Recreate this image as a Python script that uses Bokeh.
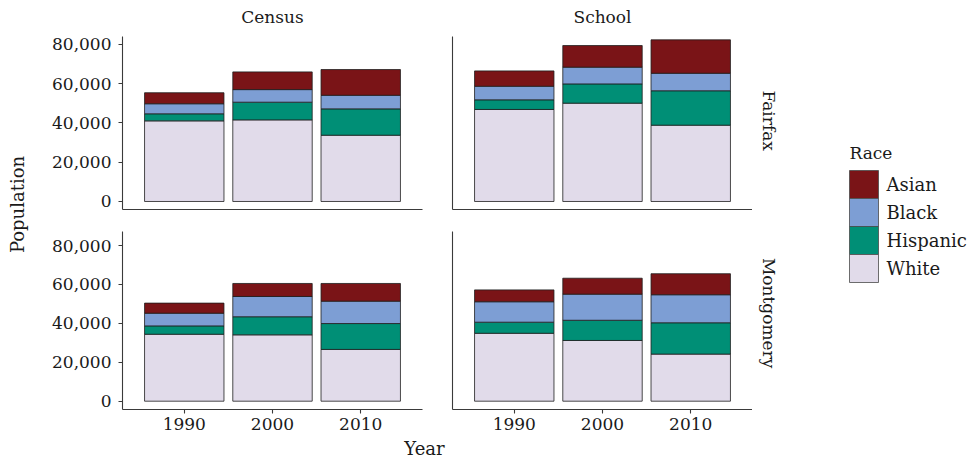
import math
from bokeh.plotting import figure
from bokeh.models import FactorRange, Range1d, NumeralTickFormatter, ColumnDataSource
from bokeh.layouts import row, column
from bokeh.embed import file_html
from bokeh.resources import INLINE
from bokeh.core.properties import value

# ---------------- data ----------------
years = ["1990", "2000", "2010"]
legend_races = ["Asian", "Black", "Hispanic", "White"]
stack_order = ["White", "Hispanic", "Black", "Asian"]          # bottom -> top
race_colors = {"Asian": "#7A1417", "Black": "#7D9ED4", "Hispanic": "#008F76", "White": "#E1DBEA"}
y_ticks = [0, 20000, 40000, 60000, 80000]
col_labels = ["Census", "School"]
row_labels = ["Fairfax", "Montgomery"]

census_fairfax = {"White": [41000, 41500, 33700], "Hispanic": [3600, 9000, 13400],
                  "Black": [5100, 6400, 6900], "Asian": [5600, 9000, 13100]}
school_fairfax = {"White": [46800, 50000, 38800], "Hispanic": [4900, 9800, 17500],
                  "Black": [6900, 8500, 8900], "Asian": [7800, 11000, 17000]}
census_montgomery = {"White": [34400, 34100, 26600], "Hispanic": [4300, 9300, 13300],
                     "Black": [6500, 10400, 11500], "Asian": [5200, 6700, 9100]}
school_montgomery = {"White": [34900, 31200, 24200], "Hispanic": [5700, 10400, 16100],
                     "Black": [10500, 13400, 14400], "Asian": [6100, 8200, 10800]}

FONT = "DejaVu Serif"
TXT = "#1a1a1a"
AXIS = "#3a3a3a"

# ---------------- geometry (page pixels, origin at top-left) ----------------
FRAME_W = 300
ROWS = {
    "top": dict(y_top=30, frame_h=173, y0=-4070, y1=83900, border_top=6, border_bottom=11),
    "bottom": dict(y_top=220, frame_h=178, y0=-4270, y1=87200, border_top=11, border_bottom=29),
}
COLS = {
    "left": dict(x_left=38, border_left=84, border_right=27),
    "right": dict(x_left=449, border_left=3, border_right=0),
}


def row_height(r):
    g = ROWS[r]
    return g["border_top"] + g["frame_h"] + g["border_bottom"]


def make_panel(data, r, c):
    g, k = ROWS[r], COLS[c]
    p = figure(
        x_range=FactorRange(factors=years, range_padding=0.2, range_padding_units="absolute"),
        y_range=Range1d(g["y0"], g["y1"]),
        width=k["border_left"] + FRAME_W + k["border_right"],
        height=row_height(r),
        min_border_left=k["border_left"], min_border_right=k["border_right"],
        min_border_top=g["border_top"], min_border_bottom=g["border_bottom"],
        output_backend="svg", toolbar_location=None, tools="", title=None,
    )
    src = ColumnDataSource(dict(year=years, **data))
    p.vbar_stack(stack_order, x="year", width=0.9, source=src,
                 fill_color=[race_colors[s] for s in stack_order],
                 line_color="#1e1e1e", line_width=0.8)
    p.outline_line_color = None
    p.xgrid.visible = False
    p.ygrid.visible = False
    p.background_fill_color = "white"
    p.border_fill_color = "white"

    for ax in (p.xaxis[0], p.yaxis[0]):
        ax.axis_line_color = AXIS
        ax.axis_line_width = 1.1
        ax.major_tick_line_color = AXIS
        ax.major_tick_line_width = 1.1
        ax.minor_tick_line_color = None
        ax.major_tick_in = 0
        ax.major_label_text_font = FONT
        ax.major_label_text_font_size = "17px"
        ax.major_label_text_color = TXT

    yax = p.yaxis[0]
    if c == "left":
        yax.ticker = y_ticks
        yax.formatter = NumeralTickFormatter(format="0,0")
        yax.major_tick_out = 4
        yax.major_label_standoff = 7
    else:
        yax.ticker = []
        yax.major_tick_out = 0
        yax.major_label_standoff = 0

    xax = p.xaxis[0]
    if r == "bottom":
        xax.major_tick_out = 4
        xax.major_label_standoff = 4
    else:
        xax.ticker = []
        xax.major_tick_out = 0
        xax.major_label_standoff = 0
    return p


def text_fig(x0, x1, y0, y1):
    f = figure(x_range=Range1d(x0, x1), y_range=Range1d(y1, y0), width=x1 - x0, height=y1 - y0,
               min_border=0, x_axis_type=None, y_axis_type=None,
               output_backend="svg", toolbar_location=None, tools="", title=None)
    f.outline_line_color = None
    f.background_fill_color = "white"
    f.border_fill_color = "white"
    return f


def put_text(f, x, y, s, size, angle=0.0, align="center"):
    f.text(x=[x], y=[y], text=[s], angle=angle, text_font=value(FONT), text_font_size=size,
           text_color=TXT, text_align=align, text_baseline="middle")


TOTAL_H = 457
top_h = ROWS["top"]["y_top"]
r1_top = ROWS["top"]["y_top"]
r2_top = ROWS["bottom"]["y_top"]
r2_end = r2_top + row_height("bottom")

# panels
tl = make_panel(census_fairfax, "top", "left")
tr = make_panel(school_fairfax, "top", "right")
bl = make_panel(census_montgomery, "bottom", "left")
br = make_panel(school_montgomery, "bottom", "right")

# strip along the top (column facets)
strip_top = text_fig(38, 782, 0, top_h)
for lab, c in zip(col_labels, ["left", "right"]):
    k = COLS[c]
    put_text(strip_top, k["x_left"] + k["border_left"] + FRAME_W / 2, 16, lab, "17px")

# strips at the right (row facets)
strip_r1 = text_fig(752, 782, r1_top, r1_top + row_height("top"))
g = ROWS["top"]
put_text(strip_r1, 768, r1_top + g["border_top"] + g["frame_h"] / 2, row_labels[0], "17px", angle=-math.pi / 2)
strip_r2 = text_fig(752, 782, r2_top, r2_end)
g = ROWS["bottom"]
put_text(strip_r2, 768, r2_top + g["border_top"] + g["frame_h"] / 2, row_labels[1], "17px", angle=-math.pi / 2)

# x axis title
xlab = text_fig(38, 782, r2_end, TOTAL_H)
put_text(xlab, 424, 447.5, "Year", "18px")

# y axis title
ylab = text_fig(0, 38, 0, TOTAL_H)
put_text(ylab, 17, 204, "Population", "18px", angle=math.pi / 2)

# legend
leg = text_fig(782, 972, 0, TOTAL_H)
key_top = 170
key_h = 28
tops = [key_top + key_h * i for i in range(len(legend_races))]
leg.quad(left=[849] * 4, right=[878] * 4, top=tops, bottom=[t + key_h for t in tops],
         fill_color=[race_colors[r] for r in legend_races], line_color="#4a4a4a", line_width=0.8)
leg.text(x=[886] * 4, y=[t + key_h / 2 for t in tops], text=legend_races,
         text_font=value(FONT), text_font_size="18px", text_color=TXT,
         text_align="left", text_baseline="middle")
put_text(leg, 849, 152, "Race", "17px", align="left")

middle = column(strip_top,
                row(tl, tr, strip_r1),
                row(bl, br, strip_r2),
                xlab)
layout = row(ylab, middle, leg)

open("out.html", "w").write(file_html(layout, INLINE))
